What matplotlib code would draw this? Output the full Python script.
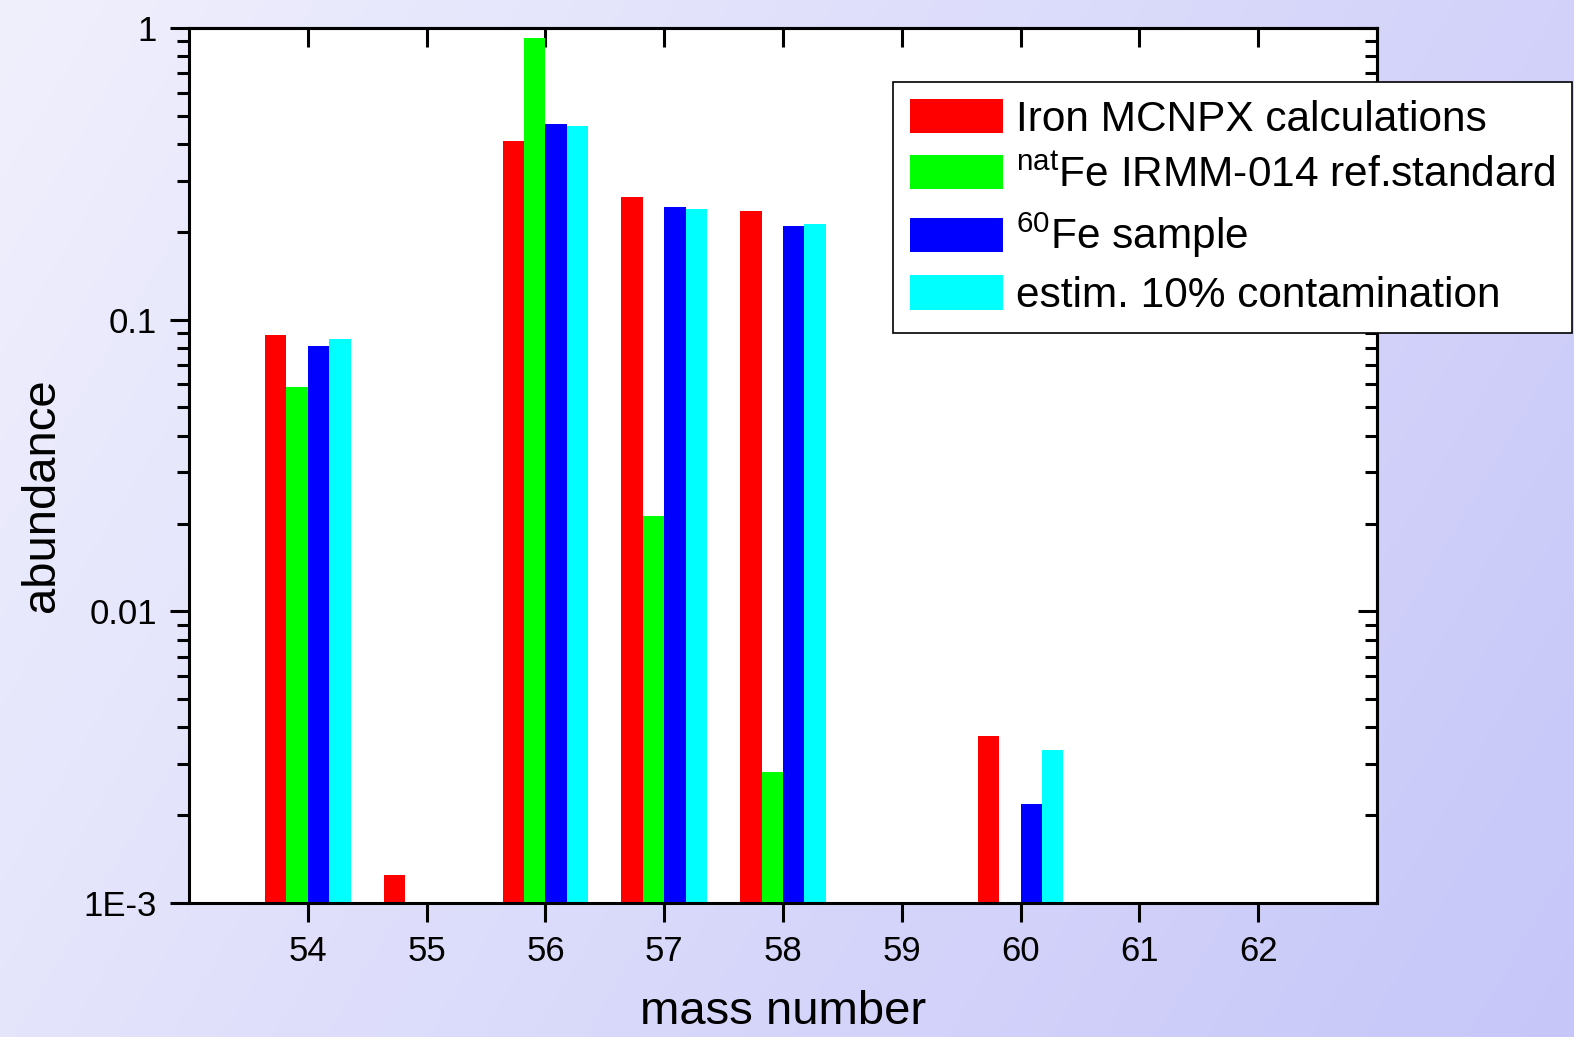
import numpy as np
import matplotlib
matplotlib.use("Agg")
import matplotlib.pyplot as plt
from matplotlib.ticker import FixedLocator, LogLocator, NullFormatter

plt.rcParams['font.family'] = ['Liberation Sans', 'DejaVu Sans']
plt.rcParams['mathtext.fontset'] = 'custom'
plt.rcParams['mathtext.rm'] = 'Liberation Sans'
plt.rcParams['mathtext.it'] = 'Liberation Sans:italic'

nan = np.nan

# abundance per mass number
mass = [54, 55, 56, 57, 58, 59, 60, 61, 62]
mcnpx = [0.0886, 0.00125, 0.409, 0.264, 0.236, nan, 0.00373, nan, nan]
irmm = [0.0587, nan, 0.924, 0.0213, 0.00282, nan, nan, nan, nan]
sample = [0.0812, nan, 0.468, 0.244, 0.210, nan, 0.00219, nan, nan]
contam = [0.0858, nan, 0.463, 0.240, 0.213, nan, 0.00334, nan, nan]

series_labels = ["Iron MCNPX calculations",
                 r"$^{\mathrm{nat}}$Fe IRMM-014 ref.standard",
                 r"$^{\mathrm{60}}$Fe sample",
                 "estim. 10% contamination"]
series_colors = ["#ff0000", "#00ff00", "#0000ff", "#00ffff"]

ytick_vals = [1e-3, 1e-2, 1e-1, 1]
ytick_labels = ["1E-3", "0.01", "0.1", "1"]

W, H = 1574, 1037
fig = plt.figure(figsize=(W / 100, H / 100), dpi=100)

# gradient background
bg = fig.add_axes([0, 0, 1, 1], zorder=-10)
gx, gy = np.meshgrid(np.linspace(0, 1, 300), np.linspace(0, 1, 200))
t = np.clip(0.72 * gx + 0.28 * gy, 0, 1)
c0 = np.array([240, 240, 253]) / 255
c1 = np.array([198, 198, 249]) / 255
img = c0[None, None, :] * (1 - t[..., None]) + c1[None, None, :] * t[..., None]
bg.imshow(img, aspect='auto', extent=[0, 1, 0, 1], origin='upper')
bg.axis('off')

ax = fig.add_axes([189 / W, 1 - 903 / H, (1377 - 189) / W, (903 - 28) / H])
ax.set_facecolor('white')

x = np.array(mass, dtype=float)
w = 0.18
handles = []
for i, (vals, col, lab) in enumerate(zip([mcnpx, irmm, sample, contam], series_colors, series_labels)):
    off = (i - 1.5) * w
    b = ax.bar(x + off, vals, width=w, color=col, linewidth=0, label=lab, zorder=2)
    handles.append(b)

ax.set_yscale('log')
ax.set_ylim(1e-3, 1)
ax.set_xlim(53, 63)

ax.set_xticks(mass)
ax.set_xticklabels([str(m) for m in mass])
ax.yaxis.set_major_locator(FixedLocator(ytick_vals))
ax.set_yticklabels(ytick_labels)
ax.yaxis.set_minor_locator(LogLocator(base=10, subs=range(2, 10)))
ax.yaxis.set_minor_formatter(NullFormatter())

for sp in ax.spines.values():
    sp.set_linewidth(2.2)
    sp.set_color('black')

ax.tick_params(axis='both', which='major', direction='out', length=14, width=2.2,
               labelsize=25, pad=9, top=False, right=False)
ax.tick_params(axis='y', which='minor', direction='out', length=8.5, width=2.2, right=False)

# top and right axes: ticks pointing inwards, no labels
secx = ax.secondary_xaxis('top')
secx.set_xticks(mass)
secx.tick_params(direction='in', length=14, width=2.2, labeltop=False)
secx.spines['top'].set_linewidth(2.2)

secy = ax.secondary_yaxis('right')
secy.yaxis.set_major_locator(FixedLocator(ytick_vals))
secy.yaxis.set_minor_locator(LogLocator(base=10, subs=range(2, 10)))
secy.yaxis.set_major_formatter(NullFormatter())
secy.yaxis.set_minor_formatter(NullFormatter())
secy.tick_params(which='major', direction='in', length=14, width=2.2, labelright=False)
secy.tick_params(which='minor', direction='in', length=8.5, width=2.2, labelright=False)
secy.spines['right'].set_linewidth(2.2)

ax.set_xlabel("mass number", fontsize=34, labelpad=16)
ax.set_ylabel("abundance", fontsize=34)
ax.yaxis.set_label_coords(-0.105, 0.466)

leg = fig.legend(handles=handles, labels=series_labels, loc='upper left',
                 bbox_to_anchor=(893 / W, 1 - 82 / H), borderaxespad=0,
                 fontsize=30.5, frameon=True, fancybox=False, framealpha=1,
                 edgecolor='black', handlelength=2.2, handleheight=0.86,
                 handletextpad=0.3, labelspacing=0.36, borderpad=0.4)
leg.get_frame().set_linewidth(1.2)
leg.set_zorder(20)

fig.savefig("out.png", dpi=100)
